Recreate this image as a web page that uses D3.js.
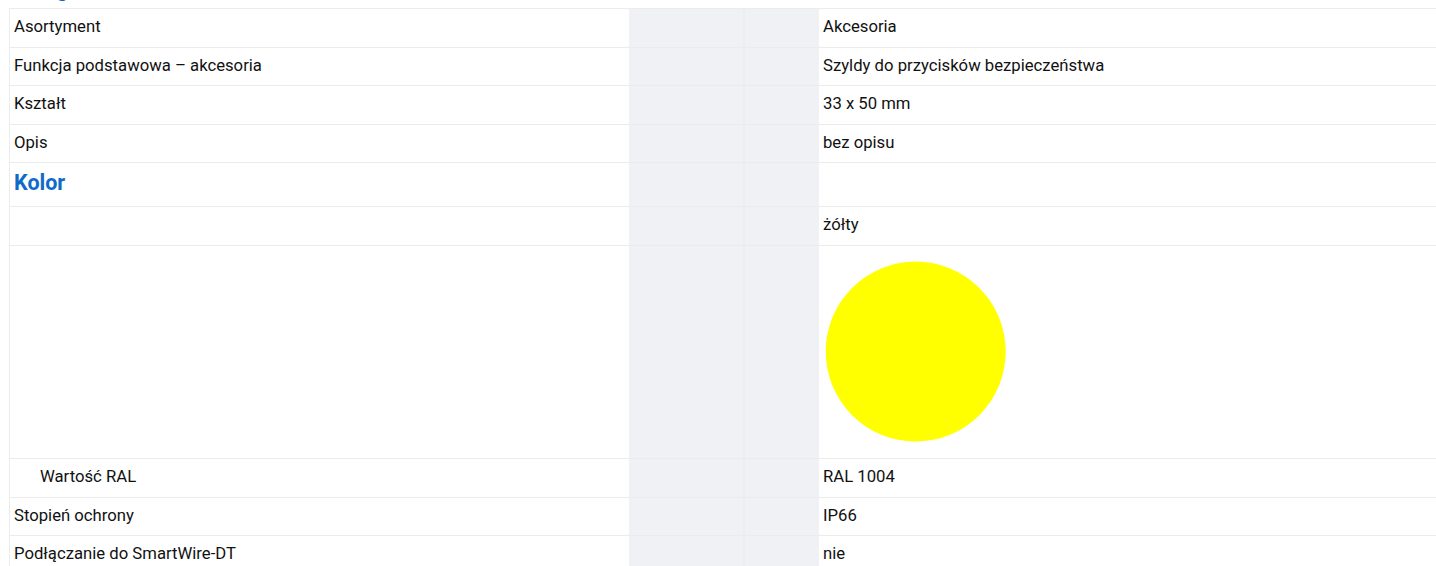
<!DOCTYPE html>
<html>
<head>
<meta charset="utf-8">
<script src="https://cdn.jsdelivr.net/npm/d3@7"></script>
<style>
  body { margin: 0; background: #fff; }
  svg { display: block; font-family: Roboto, "Noto Sans", sans-serif; }
</style>
</head>
<body>
<div id="table"></div>
<script>
// row labels, values and row kinds (text / heading / swatch)
const labels = [
  "Asortyment"
  , "Funkcja podstawowa – akcesoria"
  , "Kształt"
  , "Opis"
  , "Kolor"
  , ""
  , ""
  , "Wartość RAL"
  , "Stopień ochrony"
  , "Podłączanie do SmartWire-DT"
];

const values = [
  "Akcesoria"
  , "Szyldy do przycisków bezpieczeństwa"
  , "33 x 50 mm"
  , "bez opisu"
  , ""
  , "żółty"
  , "#ffff00"
  , "RAL 1004"
  , "IP66"
  , "nie"
];

const kinds = [
  "text", "text", "text", "text", "heading", "text", "swatch", "sub", "text", "text"
];

const section_title = "Design";

const width = 1436;
const height = 566;

const row_h = { text: 38.5, sub: 38.5, heading: 44, swatch: 213.5 };

const load_content = () => {

  const rows = labels.map((l, i) => ({ label: l, value: values[i], kind: kinds[i] }));

  // cumulative row tops
  const tops = [8.3];
  rows.forEach((r, i) => tops.push(tops[i] + row_h[r.kind]));
  rows.forEach((r, i) => { r.y0 = tops[i]; r.y1 = tops[i + 1]; });

  // column edges
  const x = d3.scaleOrdinal()
    .domain(["left", "gap1", "gap2", "value", "right"])
    .range([9, 629, 744, 819, width]);

  const svg = d3.select("#table")
    .append("svg")
    .attr("width", width)
    .attr("height", height);

  // grey spacer column
  svg.append("rect")
    .attr("x", x("gap1"))
    .attr("y", tops[0])
    .attr("width", x("value") - x("gap1"))
    .attr("height", height)
    .attr("fill", "#f0f1f5");

  svg.append("line")
    .attr("x1", x("gap2")).attr("x2", x("gap2"))
    .attr("y1", tops[0]).attr("y2", height)
    .attr("stroke", "#e8e9ed");

  // left border
  svg.append("line")
    .attr("x1", x("left") + 0.5).attr("x2", x("left") + 0.5)
    .attr("y1", tops[0]).attr("y2", height)
    .attr("stroke", "#ececec");

  // row separators
  svg.selectAll("line.sep")
    .data(tops)
    .enter()
    .append("line")
    .attr("class", "sep")
    .attr("x1", x("left"))
    .attr("x2", x("right"))
    .attr("y1", (d) => Math.round(d) + 0.5)
    .attr("y2", (d) => Math.round(d) + 0.5)
    .attr("stroke", "#ebebeb");

  // section title above the table, mostly scrolled out of view
  svg.append("text")
    .attr("x", 14)
    .attr("y", -4.5)
    .attr("font-size", 21.5)
    .attr("font-weight", "bold")
    .attr("fill", "#0f6bc8")
    .text(section_title);

  // labels
  svg.selectAll("text.label")
    .data(rows.filter((r) => r.label !== ""))
    .enter()
    .append("text")
    .attr("class", "label")
    .attr("x", (d) => d.kind === "sub" ? 40 : 14)
    .attr("y", (d) => d.kind === "heading" ? d.y0 + 27.7 : d.y0 + 23.7)
    .attr("font-size", (d) => d.kind === "heading" ? 21.5 : 16.7)
    .attr("font-weight", (d) => d.kind === "heading" ? "bold" : "normal")
    .attr("fill", (d) => d.kind === "heading" ? "#0f6bc8" : "#111")
    .text((d) => d.label);

  // values
  svg.selectAll("text.value")
    .data(rows.filter((r) => r.kind !== "swatch" && r.value !== ""))
    .enter()
    .append("text")
    .attr("class", "value")
    .attr("x", x("value") + 4)
    .attr("y", (d) => d.y0 + 23.7)
    .attr("font-size", 16.7)
    .attr("fill", "#111")
    .text((d) => d.value);

  // colour swatch
  svg.selectAll("circle.swatch")
    .data(rows.filter((r) => r.kind === "swatch"))
    .enter()
    .append("circle")
    .attr("class", "swatch")
    .attr("r", 90)
    .attr("cx", x("value") + 96.7)
    .attr("cy", (d) => (d.y0 + d.y1) / 2)
    .attr("fill", (d) => d.value);
}

load_content();
</script>
</body>
</html>
